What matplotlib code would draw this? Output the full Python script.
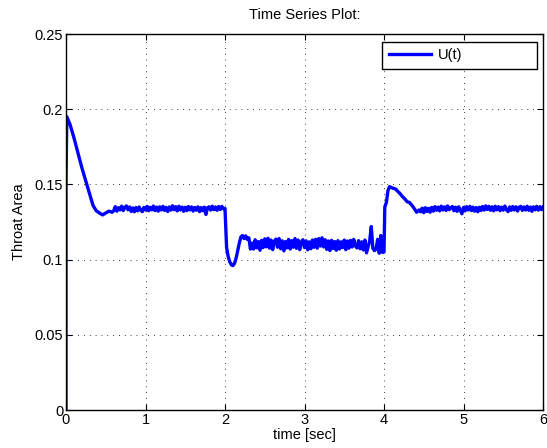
import numpy as np
import matplotlib
matplotlib.use("Agg")
from matplotlib import pyplot as plt

# Data

# start-up transient
t_start = [0.0, 0.0, 0.01, 0.05, 0.10, 0.15, 0.20, 0.25, 0.30, 0.34, 0.38, 0.42, 0.46, 0.50, 0.54, 0.58]
u_start = [0.0, 0.150, 0.195, 0.190, 0.181, 0.171, 0.161, 0.152, 0.143, 0.136, 0.1325, 0.131, 0.1297,
           0.131, 0.1322, 0.1315]

# first plateau, 0.60 .. 1.98 s every 0.02 s
u_plateau1 = [0.1325, 0.1352, 0.1322, 0.1345, 0.1330, 0.1355, 0.1326, 0.1348, 0.1357, 0.1331,
              0.1350, 0.1320, 0.1344, 0.1318, 0.1346, 0.1324, 0.1350, 0.1328, 0.1319, 0.1347,
              0.1329, 0.1354, 0.1325, 0.1348, 0.1331, 0.1356, 0.1326, 0.1349, 0.1322, 0.1351,
              0.1330, 0.1354, 0.1327, 0.1347, 0.1320, 0.1350, 0.1329, 0.1358, 0.1332, 0.1352,
              0.1324, 0.1355, 0.1330, 0.1349, 0.1321, 0.1348, 0.1326, 0.1353, 0.1330, 0.1350,
              0.1323, 0.1347, 0.1328, 0.1351, 0.1319, 0.1346, 0.1325, 0.1349, 0.1300, 0.1345,
              0.1351, 0.1329, 0.1355, 0.1332, 0.1350, 0.1328, 0.1353, 0.1333, 0.1354, 0.1338]

# step down at t = 2 s
t_down = [2.00, 2.02, 2.04, 2.06, 2.08, 2.10, 2.12, 2.14, 2.16, 2.18, 2.20, 2.22, 2.24, 2.26, 2.28,
          2.30, 2.32, 2.34]
u_down = [0.1340, 0.1080, 0.1020, 0.0985, 0.0965, 0.0960, 0.0975, 0.1010, 0.1060, 0.1110, 0.1150,
          0.1160, 0.1140, 0.1158, 0.1135, 0.1145, 0.1070, 0.1110]

# lower plateau, 2.36 .. 2.98 s and 3.00 .. 3.98 s every 0.02 s
u_plateau2a = [0.1070, 0.1132, 0.1078, 0.1120, 0.1062, 0.1128, 0.1080, 0.1138, 0.1085, 0.1142,
               0.1076, 0.1130, 0.1066, 0.1122, 0.1136, 0.1082, 0.1140, 0.1072, 0.1125, 0.1058,
               0.1120, 0.1078, 0.1134, 0.1070, 0.1126, 0.1082, 0.1140, 0.1075, 0.1130, 0.1066,
               0.1118, 0.1132]
u_plateau2b = [0.1080, 0.1125, 0.1065, 0.1118, 0.1072, 0.1130, 0.1082, 0.1135, 0.1076, 0.1140,
               0.1090, 0.1145, 0.1084, 0.1132, 0.1068, 0.1124, 0.1060, 0.1128, 0.1074, 0.1120,
               0.1062, 0.1126, 0.1070, 0.1118, 0.1080, 0.1130, 0.1066, 0.1124, 0.1076, 0.1128,
               0.1084, 0.1134, 0.1090, 0.1078, 0.1126, 0.1072, 0.1118, 0.1064, 0.1130, 0.1045,
               0.1085, 0.1125, 0.1220, 0.1075, 0.1060, 0.1070, 0.1135, 0.1042, 0.1160, 0.1048]

# step up at t = 4 s
t_up = [4.00, 4.01, 4.03, 4.05, 4.07, 4.09, 4.11, 4.13, 4.15, 4.17, 4.20, 4.23, 4.26, 4.29, 4.32,
        4.35, 4.38, 4.41, 4.44]
u_up = [0.1050, 0.1350, 0.1380, 0.1460, 0.1485, 0.1480, 0.1475, 0.1472, 0.1468, 0.1455, 0.1440,
        0.1420, 0.1405, 0.1385, 0.1380, 0.1362, 0.1340, 0.1315, 0.1330]

# last plateau, 4.46 .. 6.00 s every 0.02 s
u_plateau3 = [0.1318, 0.1342, 0.1312, 0.1345, 0.1320, 0.1341, 0.1315, 0.1347, 0.1322, 0.1352,
              0.1328, 0.1349, 0.1324, 0.1355, 0.1330, 0.1351, 0.1327, 0.1357, 0.1332, 0.1344,
              0.1353, 0.1325, 0.1348, 0.1321, 0.1351, 0.1328, 0.1305, 0.1347, 0.1324, 0.1352,
              0.1330, 0.1354, 0.1326, 0.1349, 0.1322, 0.1346, 0.1318, 0.1348, 0.1327, 0.1353,
              0.1329, 0.1357, 0.1333, 0.1354, 0.1328, 0.1351, 0.1324, 0.1355, 0.1331, 0.1352,
              0.1325, 0.1349, 0.1329, 0.1356, 0.1332, 0.1319, 0.1350, 0.1328, 0.1353, 0.1330,
              0.1351, 0.1323, 0.1348, 0.1354, 0.1327, 0.1350, 0.1330, 0.1355, 0.1328, 0.1349,
              0.1321, 0.1351, 0.1331, 0.1354, 0.1329, 0.1352, 0.1332, 0.1350]

t = np.concatenate([t_start,
                    np.linspace(0.60, 1.98, len(u_plateau1)),
                    t_down,
                    np.linspace(2.36, 2.98, len(u_plateau2a)),
                    np.linspace(3.00, 3.98, len(u_plateau2b)),
                    t_up,
                    np.linspace(4.46, 6.00, len(u_plateau3))])
u = np.concatenate([u_start, u_plateau1, u_down, u_plateau2a, u_plateau2b, u_up, u_plateau3])

# Plot

plt.rcParams['font.family'] = ['Liberation Sans', 'DejaVu Sans']
fs = 10.5

fig = plt.figure(figsize=(5.47, 4.48), dpi=100)
ax = fig.add_axes([66 / 547, 1 - 410 / 448, 477 / 547, 376 / 448])

ax.plot(t, u, color="#0000ff", linewidth=2.4, label="U(t)")

ax.set_xlim(0, 6)
ax.set_ylim(0, 0.25)
ax.set_xticks(range(7))
ax.set_yticks([0, 0.05, 0.1, 0.15, 0.2, 0.25])
ax.set_yticklabels(["0", "0.05", "0.1", "0.15", "0.2", "0.25"])
ax.tick_params(direction="in", top=True, right=True, length=4, width=0.8, pad=2, labelsize=fs)
ax.grid(True, color="black", linestyle=(0, (1, 6)), linewidth=0.6)
for s in ax.spines.values():
    s.set_linewidth(1.0)

ax.set_title("Time Series Plot:", fontsize=fs, pad=11)
ax.set_xlabel("time [sec]", fontsize=fs, labelpad=1)
ax.set_ylabel("Throat Area", fontsize=fs, labelpad=6)

leg = ax.legend(loc="upper left", bbox_to_anchor=(0.6625, 0.915, 0.325, 0.064), mode="expand",
                borderaxespad=0, fancybox=False, framealpha=1, edgecolor="black",
                handlelength=2.9, handletextpad=0.5, borderpad=0.45, fontsize=fs)
leg.get_frame().set_linewidth(1.0)

fig.savefig("out.png", dpi=100)
